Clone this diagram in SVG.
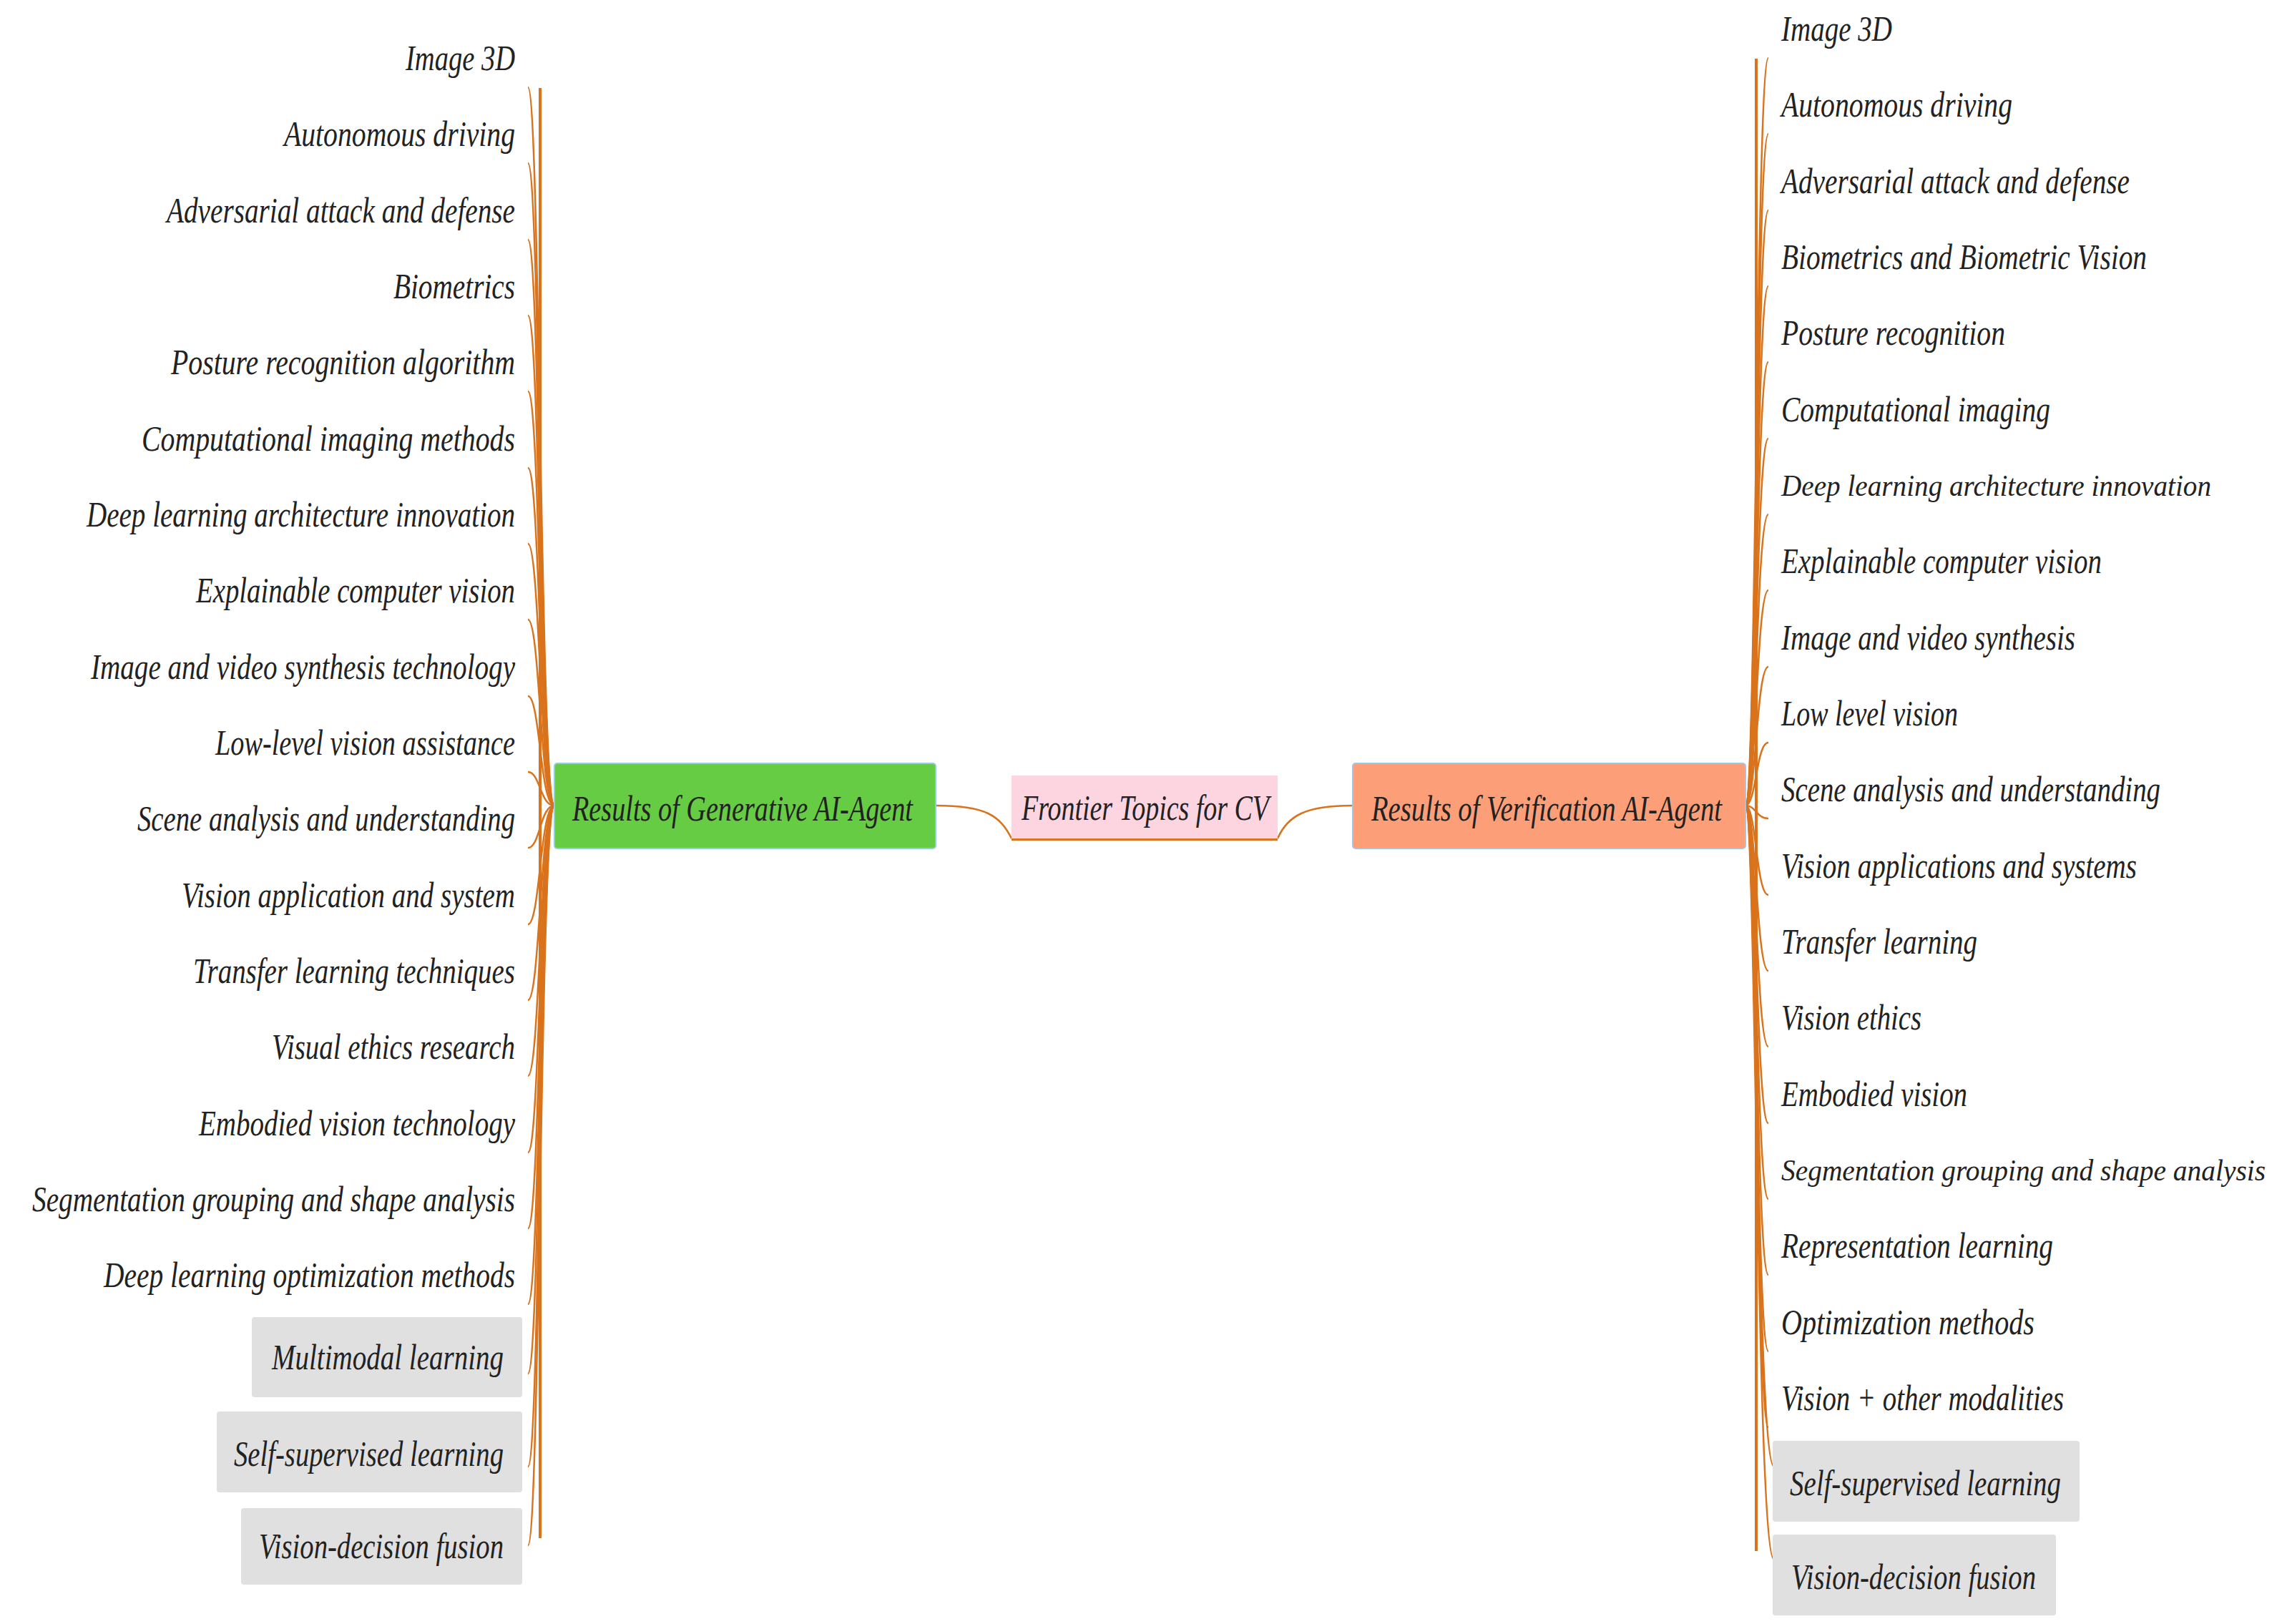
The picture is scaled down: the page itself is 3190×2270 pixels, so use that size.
<svg xmlns="http://www.w3.org/2000/svg" width="3190" height="2270" viewBox="0 0 3190 2270">
<style>
.t{font-family:"Liberation Serif",serif;font-style:italic;font-size:50px;fill:#222}
.s{font-size:42px}
.b{fill:none;stroke:#d9731c;stroke-width:2.5}
.g{fill:#e0e0e0}
</style>
<rect width="3190" height="2270" fill="#fff"/>
<g id="connectors">
<line x1="755" y1="123" x2="755" y2="2150" stroke="#d9731c" stroke-width="4"/>
<line x1="2455" y1="82" x2="2455" y2="2168" stroke="#d9731c" stroke-width="4"/>
<path class="b" d="M775,1126 C755,1126 755,122 738,122"/><path class="b" d="M775,1126 C755,1126 755,228 738,228"/><path class="b" d="M775,1126 C755,1126 755,335 738,335"/><path class="b" d="M775,1126 C755,1126 755,441 738,441"/><path class="b" d="M775,1126 C755,1126 755,547 738,547"/><path class="b" d="M775,1126 C755,1126 755,654 738,654"/><path class="b" d="M775,1126 C755,1126 755,760 738,760"/><path class="b" d="M775,1126 C755,1126 755,866 738,866"/><path class="b" d="M775,1126 C755,1126 755,973 738,973"/><path class="b" d="M775,1126 C755,1126 755,1079 738,1079"/><path class="b" d="M775,1126 C755,1126 755,1185 738,1185"/><path class="b" d="M775,1126 C755,1126 755,1292 738,1292"/><path class="b" d="M775,1126 C755,1126 755,1398 738,1398"/><path class="b" d="M775,1126 C755,1126 755,1504 738,1504"/><path class="b" d="M775,1126 C755,1126 755,1611 738,1611"/><path class="b" d="M775,1126 C755,1126 755,1717 738,1717"/><path class="b" d="M775,1126 C755,1126 755,1823 738,1823"/><path class="b" d="M775,1126 C755,1126 755,1920 738,1920"/><path class="b" d="M775,1126 C755,1126 755,2050 738,2050"/><path class="b" d="M775,1126 C755,1126 755,2160 738,2160"/>
<path class="b" d="M2440,1126 C2455,1126 2455,81 2472,81"/><path class="b" d="M2440,1126 C2455,1126 2455,187 2472,187"/><path class="b" d="M2440,1126 C2455,1126 2455,294 2472,294"/><path class="b" d="M2440,1126 C2455,1126 2455,400 2472,400"/><path class="b" d="M2440,1126 C2455,1126 2455,506 2472,506"/><path class="b" d="M2440,1126 C2455,1126 2455,613 2472,613"/><path class="b" d="M2440,1126 C2455,1126 2455,719 2472,719"/><path class="b" d="M2440,1126 C2455,1126 2455,825 2472,825"/><path class="b" d="M2440,1126 C2455,1126 2455,932 2472,932"/><path class="b" d="M2440,1126 C2455,1126 2455,1038 2472,1038"/><path class="b" d="M2440,1126 C2455,1126 2455,1144 2472,1144"/><path class="b" d="M2440,1126 C2455,1126 2455,1251 2472,1251"/><path class="b" d="M2440,1126 C2455,1126 2455,1357 2472,1357"/><path class="b" d="M2440,1126 C2455,1126 2455,1463 2472,1463"/><path class="b" d="M2440,1126 C2455,1126 2455,1570 2472,1570"/><path class="b" d="M2440,1126 C2455,1126 2455,1676 2472,1676"/><path class="b" d="M2440,1126 C2455,1126 2455,1782 2472,1782"/><path class="b" d="M2440,1126 C2455,1126 2455,1889 2472,1889"/><path class="b" d="M2440,1126 C2455,1126 2455,1995 2472,1995"/><path class="b" d="M2440,1126 C2455,1126 2455,2050 2480,2050"/><path class="b" d="M2440,1126 C2455,1126 2455,2180 2480,2180"/>
<path class="b" d="M1308,1126 C1378,1126 1398,1140 1414,1172"/>
<line x1="1414" y1="1172" x2="1786" y2="1172" stroke="#d9731c" stroke-width="6"/>
<path class="b" d="M1786,1172 C1800,1140 1825,1126 1891,1126"/>
</g>
<g id="center"><rect x="1414" y="1084" width="372" height="88" fill="#fcd5e0"/><text class="t" x="1428" y="1146" textLength="346" lengthAdjust="spacingAndGlyphs">Frontier Topics for CV</text></g>
<g id="gen"><rect x="775" y="1067" width="533" height="119" rx="4" fill="#66cc44" stroke="#9ec6e8" stroke-width="2"/><text class="t" x="800" y="1147" textLength="476" lengthAdjust="spacingAndGlyphs">Results of Generative AI-Agent</text></g>
<g id="ver"><rect x="1891" y="1067" width="549" height="119" rx="4" fill="#fc9f78" stroke="#9ec6e8" stroke-width="2"/><text class="t" x="1917" y="1147" textLength="490" lengthAdjust="spacingAndGlyphs">Results of Verification AI-Agent</text></g>
<g id="left">
<g id="l1"><text class="t" x="567" y="98" textLength="153" lengthAdjust="spacingAndGlyphs">Image 3D</text></g>
<g id="l2"><text class="t" x="397" y="204" textLength="323" lengthAdjust="spacingAndGlyphs">Autonomous driving</text></g>
<g id="l3"><text class="t" x="233" y="311" textLength="487" lengthAdjust="spacingAndGlyphs">Adversarial attack and defense</text></g>
<g id="l4"><text class="t" x="550" y="417" textLength="170" lengthAdjust="spacingAndGlyphs">Biometrics</text></g>
<g id="l5"><text class="t" x="239" y="523" textLength="481" lengthAdjust="spacingAndGlyphs">Posture recognition algorithm</text></g>
<g id="l6"><text class="t" x="198" y="630" textLength="522" lengthAdjust="spacingAndGlyphs">Computational imaging methods</text></g>
<g id="l7"><text class="t" x="121" y="736" textLength="599" lengthAdjust="spacingAndGlyphs">Deep learning architecture innovation</text></g>
<g id="l8"><text class="t" x="274" y="842" textLength="446" lengthAdjust="spacingAndGlyphs">Explainable computer vision</text></g>
<g id="l9"><text class="t" x="127" y="949" textLength="593" lengthAdjust="spacingAndGlyphs">Image and video synthesis technology</text></g>
<g id="l10"><text class="t" x="301" y="1055" textLength="419" lengthAdjust="spacingAndGlyphs">Low-level vision assistance</text></g>
<g id="l11"><text class="t" x="192" y="1161" textLength="528" lengthAdjust="spacingAndGlyphs">Scene analysis and understanding</text></g>
<g id="l12"><text class="t" x="254" y="1268" textLength="466" lengthAdjust="spacingAndGlyphs">Vision application and system</text></g>
<g id="l13"><text class="t" x="270" y="1374" textLength="450" lengthAdjust="spacingAndGlyphs">Transfer learning techniques</text></g>
<g id="l14"><text class="t" x="380" y="1480" textLength="340" lengthAdjust="spacingAndGlyphs">Visual ethics research</text></g>
<g id="l15"><text class="t" x="278" y="1587" textLength="442" lengthAdjust="spacingAndGlyphs">Embodied vision technology</text></g>
<g id="l16"><text class="t" x="45" y="1693" textLength="675" lengthAdjust="spacingAndGlyphs">Segmentation grouping and shape analysis</text></g>
<g id="l17"><text class="t" x="145" y="1799" textLength="575" lengthAdjust="spacingAndGlyphs">Deep learning optimization methods</text></g>
<g id="l18"><rect class="g" x="352" y="1841" width="378" height="112" rx="4"/><text class="t" x="380" y="1914" textLength="324" lengthAdjust="spacingAndGlyphs">Multimodal learning</text></g>
<g id="l19"><rect class="g" x="303" y="1973" width="427" height="113" rx="4"/><text class="t" x="327" y="2049" textLength="377" lengthAdjust="spacingAndGlyphs">Self-supervised learning</text></g>
<g id="l20"><rect class="g" x="337" y="2108" width="393" height="107" rx="4"/><text class="t" x="362" y="2178" textLength="342" lengthAdjust="spacingAndGlyphs">Vision-decision fusion</text></g>
</g>
<g id="right">
<g id="r1"><text class="t" x="2490" y="57" textLength="155" lengthAdjust="spacingAndGlyphs">Image 3D</text></g>
<g id="r2"><text class="t" x="2490" y="163" textLength="323" lengthAdjust="spacingAndGlyphs">Autonomous driving</text></g>
<g id="r3"><text class="t" x="2490" y="270" textLength="487" lengthAdjust="spacingAndGlyphs">Adversarial attack and defense</text></g>
<g id="r4"><text class="t" x="2490" y="376" textLength="511" lengthAdjust="spacingAndGlyphs">Biometrics and Biometric Vision</text></g>
<g id="r5"><text class="t" x="2490" y="482" textLength="313" lengthAdjust="spacingAndGlyphs">Posture recognition</text></g>
<g id="r6"><text class="t" x="2490" y="589" textLength="376" lengthAdjust="spacingAndGlyphs">Computational imaging</text></g>
<g id="r7"><text class="t s" x="2490" y="693" textLength="601" lengthAdjust="spacingAndGlyphs">Deep learning architecture innovation</text></g>
<g id="r8"><text class="t" x="2490" y="801" textLength="448" lengthAdjust="spacingAndGlyphs">Explainable computer vision</text></g>
<g id="r9"><text class="t" x="2490" y="908" textLength="411" lengthAdjust="spacingAndGlyphs">Image and video synthesis</text></g>
<g id="r10"><text class="t" x="2490" y="1014" textLength="247" lengthAdjust="spacingAndGlyphs">Low level vision</text></g>
<g id="r11"><text class="t" x="2490" y="1120" textLength="530" lengthAdjust="spacingAndGlyphs">Scene analysis and understanding</text></g>
<g id="r12"><text class="t" x="2490" y="1227" textLength="497" lengthAdjust="spacingAndGlyphs">Vision applications and systems</text></g>
<g id="r13"><text class="t" x="2490" y="1333" textLength="274" lengthAdjust="spacingAndGlyphs">Transfer learning</text></g>
<g id="r14"><text class="t" x="2490" y="1439" textLength="196" lengthAdjust="spacingAndGlyphs">Vision ethics</text></g>
<g id="r15"><text class="t" x="2490" y="1546" textLength="260" lengthAdjust="spacingAndGlyphs">Embodied vision</text></g>
<g id="r16"><text class="t s" x="2490" y="1650" textLength="677" lengthAdjust="spacingAndGlyphs">Segmentation grouping and shape analysis</text></g>
<g id="r17"><text class="t" x="2490" y="1758" textLength="380" lengthAdjust="spacingAndGlyphs">Representation learning</text></g>
<g id="r18"><text class="t" x="2490" y="1865" textLength="354" lengthAdjust="spacingAndGlyphs">Optimization methods</text></g>
<g id="r19"><text class="t" x="2490" y="1971" textLength="395" lengthAdjust="spacingAndGlyphs">Vision + other modalities</text></g>
<g id="r20"><rect class="g" x="2478" y="2014" width="429" height="113" rx="4"/><text class="t" x="2502" y="2090" textLength="379" lengthAdjust="spacingAndGlyphs">Self-supervised learning</text></g>
<g id="r21"><rect class="g" x="2478" y="2145" width="396" height="113" rx="4"/><text class="t" x="2504" y="2221" textLength="342" lengthAdjust="spacingAndGlyphs">Vision-decision fusion</text></g>
</g>
</svg>
